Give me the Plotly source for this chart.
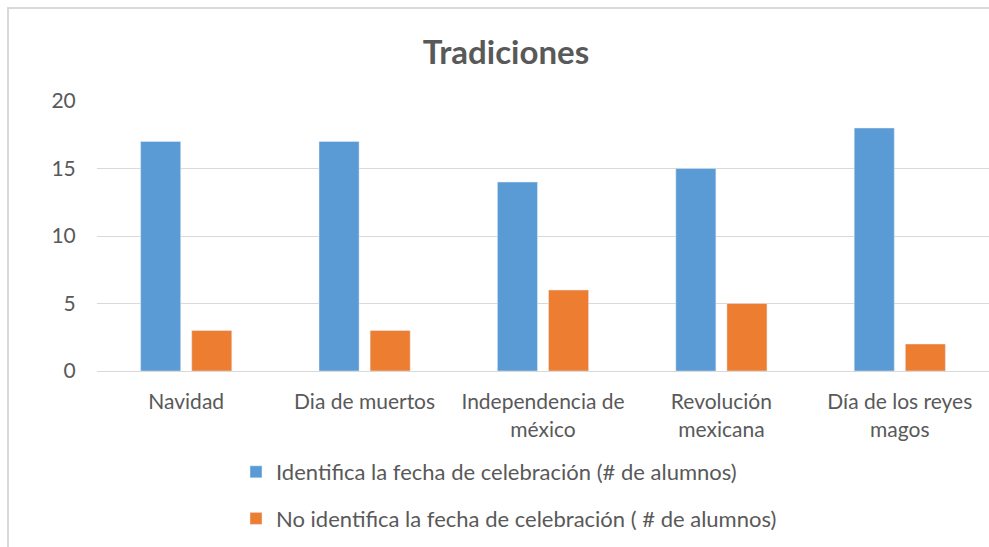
import plotly.graph_objects as go

categories = ["Navidad", "Dia de muertos", "Independencia de<br>méxico", "Revolución<br>mexicana", "Día de los reyes<br>magos"]
identifica = [17, 17, 14, 15, 18]
no_identifica = [3, 3, 6, 5, 2]
series_names = ["Identifica la fecha de celebración (# de alumnos)",
                "No identifica la fecha de celebración ( # de alumnos)"]
y_ticks = [0, 5, 10, 15, 20]

W, H = 989, 547
L, R, T, B = 97, 0, 101, 176
pw = W - L - R
ph = H - T - B

font_fam = "Lato, Open Sans, sans-serif"
txt = "#595959"

fig = go.Figure()
fig.add_trace(go.Bar(x=categories, y=identifica, name=series_names[0],
                     marker_color="#5B9BD5", legendgroup="a"))
fig.add_trace(go.Bar(x=categories, y=no_identifica, name=series_names[1],
                     marker_color="#ED7D31", legendgroup="b"))

fig.update_layout(
    width=W, height=H,
    margin=dict(l=L, r=R, t=T, b=B),
    paper_bgcolor="white", plot_bgcolor="white",
    barmode="group", bargap=0.427, bargroupgap=0.216,
    title=dict(text="<b>Tradiciones</b>", x=(506 - L) / pw, xref="paper", xanchor="center",
               y=1 - 52 / H, yanchor="middle",
               font=dict(family=font_fam, size=33, color=txt)),
    font=dict(family=font_fam, size=21, color=txt),
    legend=dict(orientation="v", x=(236 - L) / pw, xanchor="left",
                y=(371 - 451) / ph, yanchor="top",
                font=dict(size=22, color=txt), tracegroupgap=15,
                itemwidth=30, bgcolor="rgba(0,0,0,0)"),
    xaxis=dict(showline=False, ticks="outside", tickcolor="white", ticklen=12,
               tickfont=dict(size=21, color=txt)),
    yaxis=dict(range=[0, 20], tickvals=y_ticks, showgrid=True, gridcolor="#d9d9d9",
               gridwidth=1, zeroline=True, zerolinecolor="#d9d9d9", zerolinewidth=1,
               showline=False, ticks="outside", tickcolor="white", ticklen=16,
               tickfont=dict(size=21, color=txt)),
    shapes=[dict(type="rect", xref="paper", yref="paper",
                 x0=(8 - L) / pw, x1=1.05, y0=-1.0, y1=(H - B - 8) / ph,
                 line=dict(color="#d9d9d9", width=2), layer="below")],
)

fig.write_html("out.html", config={"displayModeBar": False},
               post_script="document.body.style.margin='0';document.body.style.overflow='hidden';")
